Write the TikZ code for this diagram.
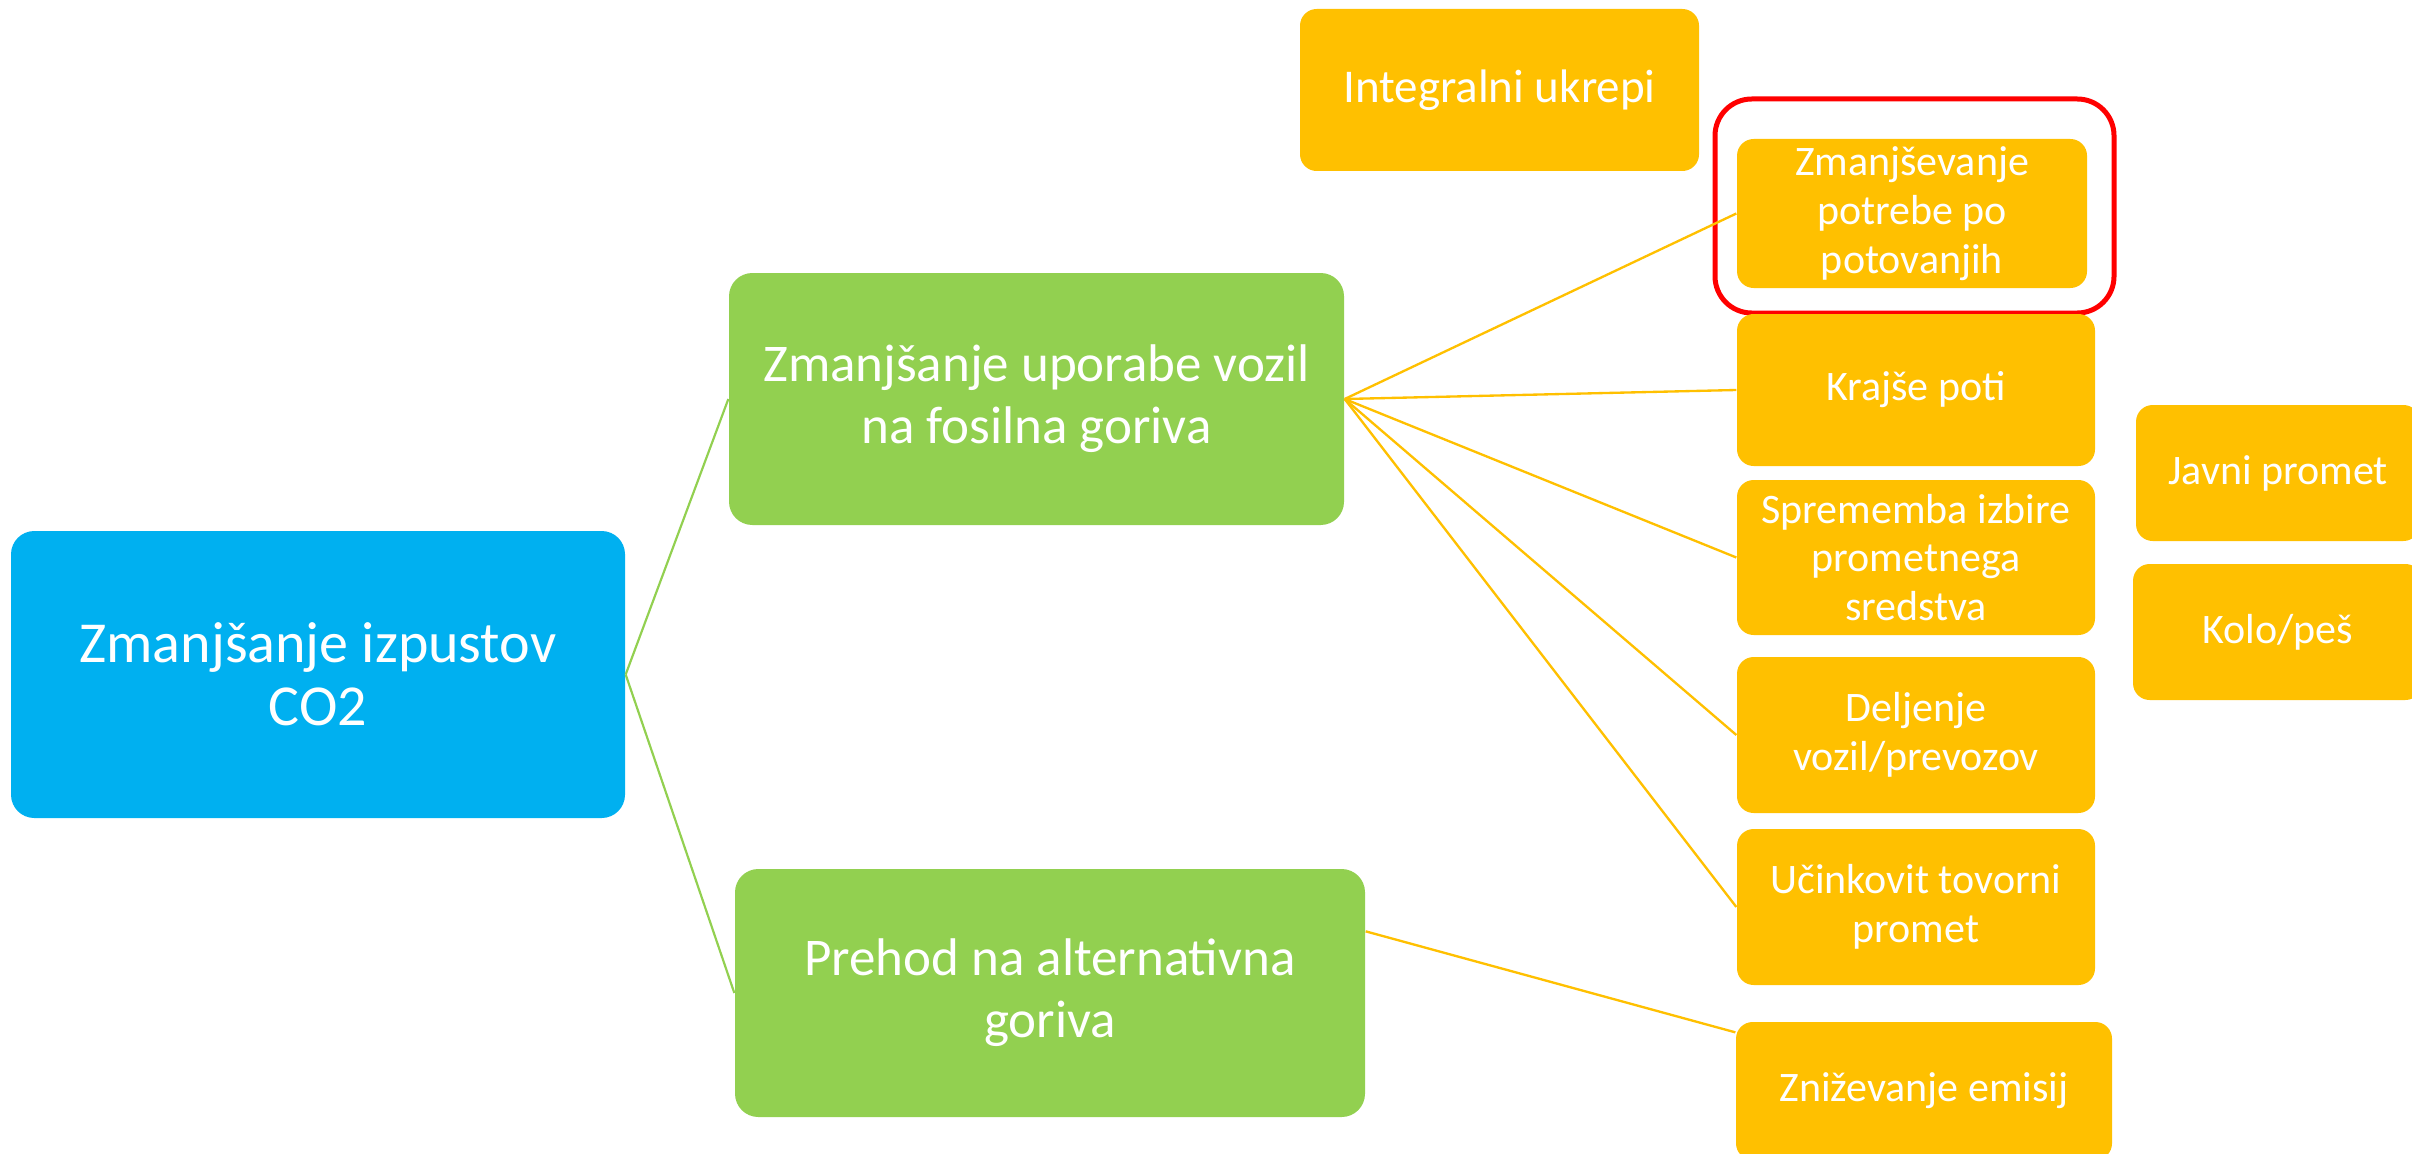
\documentclass[tikz,border=0pt]{standalone}
\usepackage{fontspec}
\setmainfont{Carlito}
\usetikzlibrary{calc}
\definecolor{cblue}{HTML}{00B0F0}
\definecolor{cgreen}{HTML}{92D050}
\definecolor{corange}{HTML}{FFC000}
\definecolor{cred}{HTML}{FF0000}
\begin{document}
\begin{tikzpicture}[x=0.3pt,y=-0.3pt,
  span/.style args={#1,#2,#3,#4}{minimum width={(#3-#1)*0.3pt}, minimum height={(#4-#2)*0.3pt},
    at={({(#1+#3)/2},{(#2+#4)/2})}},
  rootbox/.style={rectangle, rounded corners=7pt, inner sep=0pt, fill=cblue, text=white, align=center,
    font=\fontsize{17.4pt}{18.9pt}\selectfont},
  greenbox/.style={rectangle, rounded corners=7pt, inner sep=0pt, fill=cgreen, text=white, align=center,
    font=\fontsize{15.9pt}{18.6pt}\selectfont},
  orangebox/.style={rectangle, rounded corners=5pt, inner sep=0pt, fill=corange, text=white, align=center,
    font=\fontsize{12.6pt}{14.6pt}\selectfont},
  redframe/.style={rectangle, rounded corners=11pt, inner sep=0pt, draw=cred, line width=1.5pt},
  gline/.style={draw=cgreen, line width=0.65pt},
  oline/.style={draw=corange, line width=0.7pt}]
\clip (0,0) rectangle (2412,1153);
\fill[white] (0,0) rectangle (2412,1153);

\node[rootbox, span={11,531,625,818}] (root) {Zmanjšanje izpustov\\CO2};
\node[greenbox, span={729,273,1344,525}] (g1) {Zmanjšanje uporabe vozil\\na fosilna goriva};
\node[greenbox, span={735,869,1365,1117}] (g2) {Prehod na alternativna\\goriva};

\node[orangebox, span={1300,9,1699,171}, font=\fontsize{14.1pt}{16pt}\selectfont] (ik) {Integralni ukrepi};
\node[redframe, span={1715,99,2114,313}] (red) {};
\node[orangebox, span={1737,139,2087,288}] (zp) {Zmanjševanje\\potrebe po\\potovanjih};
\node[orangebox, span={1737,314,2095,466}] (kp) {Krajše poti};
\node[orangebox, span={1737,480,2095,635}] (sp) {Sprememba izbire\\prometnega\\sredstva};
\node[orangebox, span={1737,657,2095,813}] (dv) {Deljenje\\vozil/prevozov};
\node[orangebox, span={1737,829,2095,985}] (ut) {Učinkovit tovorni\\promet};
\node[orangebox, span={1736,1022,2112,1160}] (zn) {Zniževanje emisij};
\node[orangebox, span={2136,405,2420,541}] (jp) {Javni promet};
\node[orangebox, span={2133,564,2422,700}] (kol) {Kolo/peš};

\draw[gline] (root.east) -- (g1.west);
\draw[gline] (root.east) -- (g2.west);
\draw[oline] (g1.east) -- (zp.west);
\draw[oline] (g1.east) -- (kp.west);
\draw[oline] (g1.east) -- (sp.west);
\draw[oline] (g1.east) -- (dv.west);
\draw[oline] (g1.east) -- (ut.west);
\coordinate (g2out) at ($(g2.north east)+(0,63)$);
\coordinate (znin) at ($(zn.north west)+(0,11)$);
\draw[oline] (g2out) -- (znin);
\end{tikzpicture}
\end{document}
